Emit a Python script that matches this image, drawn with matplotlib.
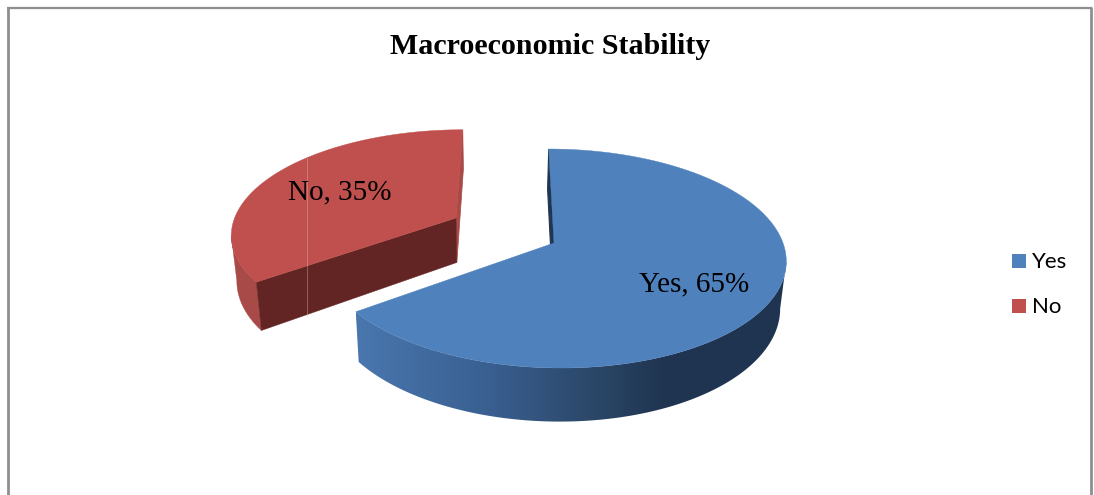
#!/usr/bin/env python3
"""
Exploded 3D pie of the macroeconomic stability answers
"""

import numpy as np
import matplotlib
matplotlib.use('Agg')
import matplotlib.pyplot as plt
from matplotlib.colors import LinearSegmentedColormap
from matplotlib.patches import Polygon, Rectangle

title = 'Macroeconomic Stability'
categories = ['Yes', 'No']
percents = [65, 35]

top_colors = ['#4F81BD', '#C0504D']
cut_colors = ['#1F3552', '#632523']
label_pos = [(694, 284), (340, 192)]
legend_y = [261, 306]
# slice offset on the unit disc, the second one is pulled out
offsets = [(0.0, 0.0), (-0.436, 0.241)]

# projection of the unit disc onto the canvas (pixels)
X0, Y0 = 554, 243
SX, SY = 229, 107.3
SHEAR = -6
PERSP = 0.1416
DEPTH = 46
VANISH_X, SHRINK = 495, 0.021


def project(x, y, lower=False):
    """Disc coordinates to canvas pixels, lower=True gives the bottom face."""
    w = 1 + PERSP * y
    px = X0 + (SX * x + SHEAR * y) / w
    py = Y0 - SY * y / w
    if lower:
        px = px + (VANISH_X - px) * SHRINK
        py = py + DEPTH / w
    return px, py


def rim(a0, a1, off, lower=False):
    # angles are clockwise from 12 o'clock
    t = np.radians(np.linspace(a0, a1, 400))
    px, py = project(np.sin(t) + off[0], np.cos(t) + off[1], lower)
    return np.column_stack([px, py])


def apex(off, lower=False):
    return np.array([project(off[0], off[1], lower)])


def wall_polygon(a0, a1, off, side):
    # outer wall between the slice end and the silhouette edge, so the
    # closing edge is the tangent between the two faces
    top = rim(a0, a1, off)
    low = rim(a0, a1, off, True)
    if side == 'left':
        k = np.argmin(top[:, 0])
        return np.vstack([top[:k + 1], low[:k + 1][::-1]])
    k = np.argmax(top[:, 0])
    return np.vstack([top[k:], low[k:][::-1]])


fig = plt.figure(figsize=(10.94, 4.95), dpi=100)
ax = fig.add_axes([0, 0, 1, 1])

# chart frame, open at the bottom
frame = '#8E8E8E'
ax.plot([8.0, 8.0], [495, 7.5], color=frame, lw=2.0, solid_capstyle='butt')
ax.plot([7.0, 1091.5], [7.8, 7.8], color=frame, lw=1.6, solid_capstyle='butt')
ax.plot([1091, 1091], [7, 495], color=frame, lw=2.0, solid_capstyle='butt')

shares = np.array(percents) / sum(percents) * 360
a_blue = shares[0]

# --- No slice, further from the viewer so it goes first ---
off = offsets[1]
a0, a1 = a_blue, 360
ax.add_patch(Polygon(wall_polygon(a0, a1, off, 'left'),
                     fc='#A84A47', ec='#A84A47', lw=0.3))
ax.add_patch(Polygon(np.vstack([rim(a1, a1, off)[:1], apex(off), apex(off, True),
                                rim(a1, a1, off, True)[:1]]),
                     fc='#A94A47', ec='#A94A47', lw=0.5))
ax.add_patch(Polygon(np.vstack([apex(off), rim(a0, a0, off)[:1],
                                rim(a0, a0, off, True)[:1], apex(off, True)]),
                     fc=cut_colors[1], ec=cut_colors[1], lw=0.3))
ax.add_patch(Polygon(np.vstack([apex(off), rim(a0, a1, off)]),
                     fc=top_colors[1], ec=top_colors[1], lw=0.3))
# faint seam across the slice
ax.plot([307, 307], [158, 316], color='#E8B8B6', lw=0.6, alpha=0.45)

# --- Yes slice ---
off = offsets[0]
a0, a1 = 0, a_blue
ax.add_patch(Polygon(np.vstack([rim(a0, a0, off)[:1], apex(off), apex(off, True),
                                rim(a0, a0, off, True)[:1]]),
                     fc=cut_colors[0], ec=cut_colors[0], lw=0.8))

# outer wall shaded from left to right
wall_cmap = LinearSegmentedColormap.from_list(
    'wall', [(0.0, '#4977AE'), (0.3, '#3A6092'), (0.55, '#2B4768'),
             (0.72, '#1F3450'), (1.0, '#1F3450')])
wall = Polygon(wall_polygon(a0, a1, off, 'right'), transform=ax.transData, fc='none', ec='none')
ax.add_patch(wall)
img = ax.imshow(np.linspace(0, 1, 256).reshape(1, -1), cmap=wall_cmap, vmin=0, vmax=1,
                extent=(356, 788, 430, 240), aspect='auto', interpolation='bilinear')
img.set_clip_path(wall)

ax.add_patch(Polygon(np.vstack([apex(off), rim(a0, a1, off)]),
                     fc=top_colors[0], ec=top_colors[0], lw=0.3, zorder=3))

# data labels
for cat, pct, (tx, ty) in zip(categories, percents, label_pos):
    ax.text(tx, ty, f'{cat}, {pct}%', family='Liberation Serif', fontsize=21,
            ha='center', va='center', color='black', zorder=4)

ax.text(550, 47, title, family='Liberation Serif', fontweight='bold', fontsize=21.6,
        ha='center', va='center', color='black')

# legend
for cat, col, ly in zip(categories, top_colors, legend_y):
    ax.add_patch(Rectangle((1012, ly - 7), 14, 14, fc=col, ec='none'))
    ax.text(1032, ly + 1, cat, family='Lato', fontsize=16, ha='left', va='center', color='black')

ax.set_xlim(0, 1094)
ax.set_ylim(495, 0)
ax.axis('off')

plt.savefig('out.png', dpi=100)
plt.close()
